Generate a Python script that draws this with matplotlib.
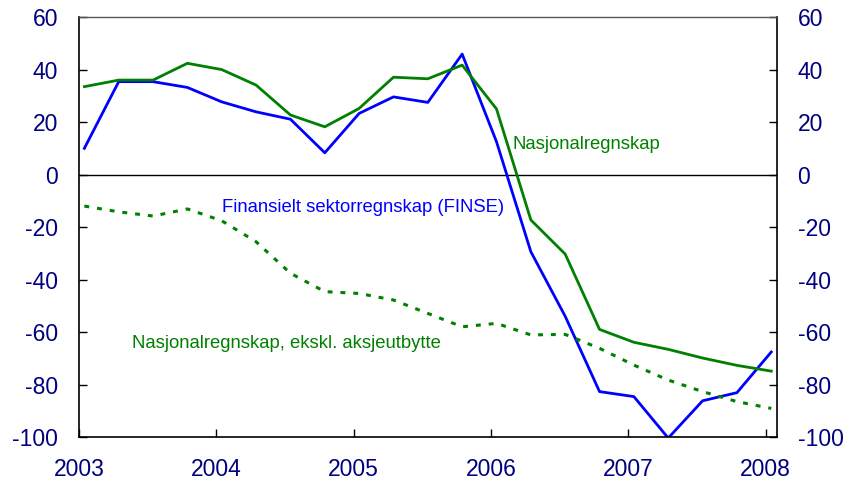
import matplotlib.pyplot as plt

plt.rcParams['font.family'] = ['Liberation Sans', 'DejaVu Sans']
plt.rcParams['axes.unicode_minus'] = False

# quarterly, 2003 Q1 - 2008 Q1
quarters = [2003.04 + 0.25 * i for i in range(21)]
finse = [10.0, 35.4, 35.4, 33.2, 27.7, 23.9, 21.1, 8.3, 23.3, 29.6, 27.5, 45.9,
         12.5, -29.4, -54.0, -82.7, -84.6, -100.4, -86.2, -83.1, -67.6]
nasjonal = [33.5, 36.0, 36.0, 42.4, 40.0, 34.1, 22.7, 18.2, 25.2, 37.1, 36.5, 41.7,
            25.0, -17.3, -30.3, -59.0, -63.9, -66.6, -69.9, -72.7, -74.9]
eksl = [-12.0, -14.2, -15.8, -13.1, -17.6, -25.6, -37.6, -44.6, -45.3, -47.8, -52.9,
        -58.0, -56.7, -61.1, -60.9, -66.2, -72.6, -78.3, -82.7, -86.5, -89.1]

years = [2003, 2004, 2005, 2006, 2007, 2008]
yticks = [60, 40, 20, 0, -20, -40, -60, -80, -100]

blue = '#0000ff'
green = '#008000'
navy = '#000080'

fig = plt.figure(figsize=(8.48, 4.86), dpi=100)
ax = fig.add_axes([0.093, 0.1008, 0.823, 0.864])

ax.axhline(0, color='black', linewidth=1.0)
ax.plot(quarters, finse, color=blue, linewidth=2.0)
ax.plot(quarters, nasjonal, color=green, linewidth=2.0)
ax.plot(quarters, eksl, color=green, linewidth=2.2, linestyle=(0, (1.6, 2.6)))

ax.text(2004.04, -12.4, 'Finansielt sektorregnskap (FINSE)', color=blue,
        fontsize=13.3, va='center', ha='left')
ax.text(2006.16, 11.6, 'Nasjonalregnskap', color=green,
        fontsize=13.3, va='center', ha='left')
ax.text(2003.39, -64.3, 'Nasjonalregnskap, ekskl. aksjeutbytte', color=green,
        fontsize=13.3, va='center', ha='left')

ax.set_xlim(2003, 2008.08)
ax.set_ylim(-100, 60)
ax.set_xticks(years)
ax.set_xticklabels([str(y) for y in years])
ax.set_yticks(yticks)

ax.tick_params(axis='both', direction='in', labelsize=16.5, labelcolor=navy,
               length=6, width=1)
ax.tick_params(axis='x', pad=15)
ax.tick_params(axis='y', pad=15, right=True, labelright=True)

for s in ['left', 'right', 'bottom']:
    ax.spines[s].set_linewidth(1.2)
ax.spines['top'].set_color('#555555')
ax.spines['top'].set_linewidth(1.0)

fig.savefig('out.png', dpi=100)
